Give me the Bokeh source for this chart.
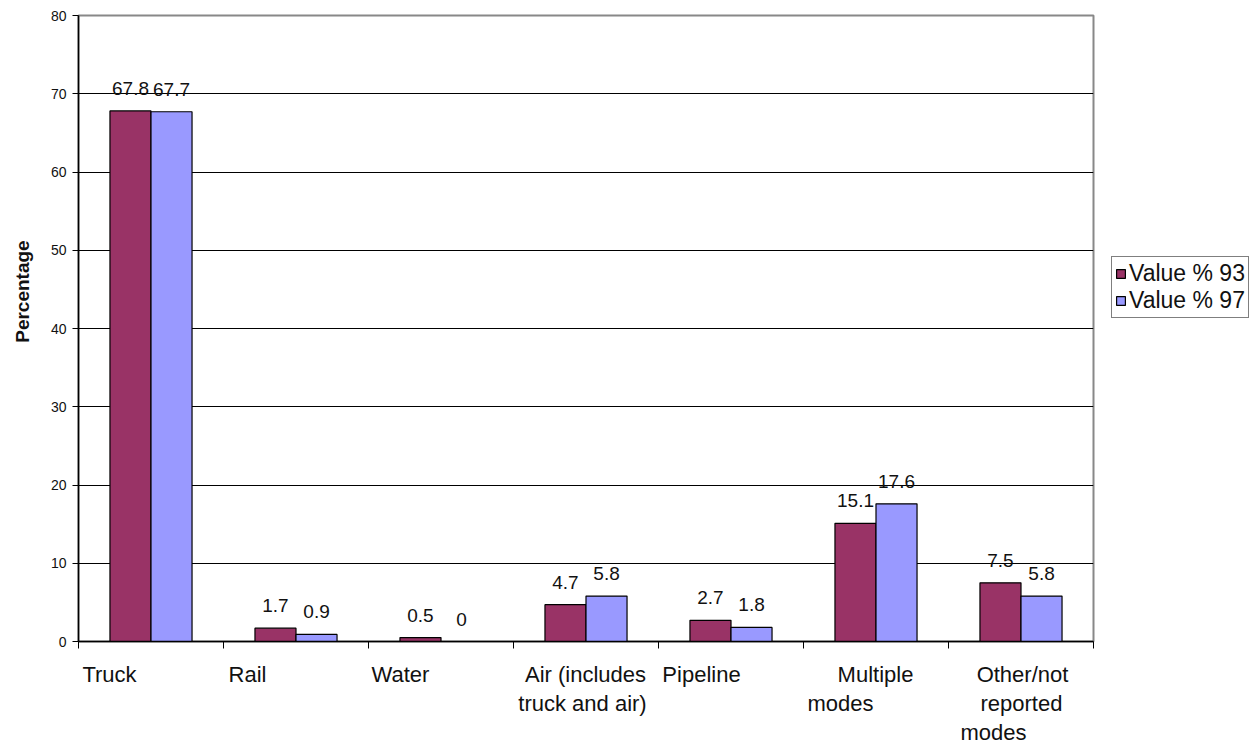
from bokeh.plotting import figure
from bokeh.models import (ColumnDataSource, FixedTicker, Range1d, Legend, LegendItem,
                          LinearAxis)
from bokeh.core.properties import value
from bokeh.embed import file_html
from bokeh.resources import INLINE

# Freight shipments by mode, share of value (%)
modes = ["Truck", "Rail", "Water", "Air (includes truck and air)", "Pipeline",
         "Multiple modes", "Other/not reported modes"]
value_93 = [67.8, 1.7, 0.5, 4.7, 2.7, 15.1, 7.5]
value_97 = [67.7, 0.9, 0.0, 5.8, 1.8, 17.6, 5.8]
series_names = ["Value % 93", "Value % 97"]
y_ticks = [0, 10, 20, 30, 40, 50, 60, 70, 80]

# Wrapped category label lines and where each line is centred, in pixels from
# the category's left edge
label_lines = [
    [("Truck", 31)],
    [("Rail", 24)],
    [("Water", 32)],
    [("Air (includes", 72), ("truck and air)", 69)],
    [("Pipeline", 43)],
    [("Multiple", 72), ("modes", 37)],
    [("Other/not", 74), ("reported", 73), ("modes", 45)],
]

MAROON = "#993366"
PERI = "#9999FF"
FONT = "Liberation Sans"
TEXT = "#111111"
FRAME_W = 1015
FRAME_H = 626

n = len(modes)
cat_px = FRAME_W / n
bar_w = 0.283
centers = [i + 0.5 for i in range(n)]

src93 = ColumnDataSource(dict(x=[c - bar_w / 2 for c in centers], top=value_93,
                              lbl=[f"{v:g}" for v in value_93]))
src97 = ColumnDataSource(dict(x=[c + bar_w / 2 for c in centers], top=value_97,
                              lbl=[f"{v:g}" for v in value_97]))

p = figure(frame_width=FRAME_W, frame_height=FRAME_H, output_backend="svg",
           toolbar_location=None, x_range=Range1d(0, n), y_range=Range1d(0, 80),
           min_border_left=78, min_border_right=0, min_border_top=15,
           min_border_bottom=0)
p.background_fill_color = "white"
p.border_fill_color = "white"
p.outline_line_color = "#888888"
p.outline_line_width = 2

r93 = p.vbar(x="x", top="top", width=bar_w, source=src93, fill_color=MAROON,
             line_color="#000000", line_width=1.2)
r97 = p.vbar(x="x", top="top", width=bar_w, source=src97, fill_color=PERI,
             line_color="#000000", line_width=1.2)

for s in (src93, src97):
    p.text(x="x", y="top", text="lbl", source=s, text_align="center",
           text_baseline="bottom", y_offset=-16, text_font=value(FONT),
           text_font_size="19px", text_color=TEXT)

# y axis; the title is padded with no-break spaces so it sits a little above centre
p.yaxis.ticker = FixedTicker(ticks=y_ticks)
p.yaxis.axis_line_color = "black"
p.yaxis.axis_line_width = 1.5
p.yaxis.major_tick_out = 6
p.yaxis.major_tick_in = 0
p.yaxis.minor_tick_line_color = None
p.yaxis.major_label_text_font = FONT
p.yaxis.major_label_text_font_size = "14px"
p.yaxis.major_label_text_color = TEXT
p.yaxis.major_label_standoff = 6
p.yaxis.axis_label = "\u00a0" * 14 + "Percentage"
p.yaxis.axis_label_text_font = FONT
p.yaxis.axis_label_text_font_style = "bold"
p.yaxis.axis_label_text_font_size = "19px"
p.yaxis.axis_label_text_color = TEXT
p.yaxis.axis_label_standoff = 15

# x axis: ticks at category boundaries only
bounds = list(range(n + 1))
p.xaxis.ticker = FixedTicker(ticks=bounds)
p.xaxis.major_label_overrides = {b: "" for b in bounds}
p.xaxis.major_label_standoff = 0
p.xaxis.axis_line_color = "black"
p.xaxis.axis_line_width = 1.5
p.xaxis.major_tick_out = 7
p.xaxis.major_tick_in = 0
p.xaxis.minor_tick_line_color = None

p.xgrid.grid_line_color = None
p.ygrid.ticker = FixedTicker(ticks=y_ticks[1:-1])
p.ygrid.grid_line_color = "black"
p.ygrid.grid_line_width = 1.2

# Category names: one label row per wrapped line
n_rows = max(len(l) for l in label_lines)
for row in range(n_rows):
    ticks, overrides = [], {}
    for i, lines in enumerate(label_lines):
        if row < len(lines):
            txt, off = lines[row]
            t = i + off / cat_px
            ticks.append(t)
            overrides[t] = txt
    ax = LinearAxis(ticker=FixedTicker(ticks=ticks), major_label_overrides=overrides,
                    axis_line_color=None, major_tick_line_color=None,
                    minor_tick_line_color=None,
                    major_label_text_font=FONT, major_label_text_font_size="22px",
                    major_label_text_color=TEXT,
                    major_label_standoff=(7 if row == 0 else -5))
    p.add_layout(ax, "below")

legend = Legend(items=[LegendItem(label=series_names[0], renderers=[r93]),
                       LegendItem(label=series_names[1], renderers=[r97])],
                location=(18, 323), orientation="vertical")
legend.border_line_color = "black"
legend.border_line_width = 1.2
legend.background_fill_color = "white"
legend.label_text_font = FONT
legend.label_text_font_size = "23px"
legend.label_text_color = TEXT
legend.glyph_width = 11
legend.glyph_height = 11
legend.label_standoff = 3
legend.padding = 3
legend.spacing = 0
legend.margin = 0
legend.label_height = 24
p.add_layout(legend, "right")

open("out.html", "w").write(file_html(p, INLINE))
